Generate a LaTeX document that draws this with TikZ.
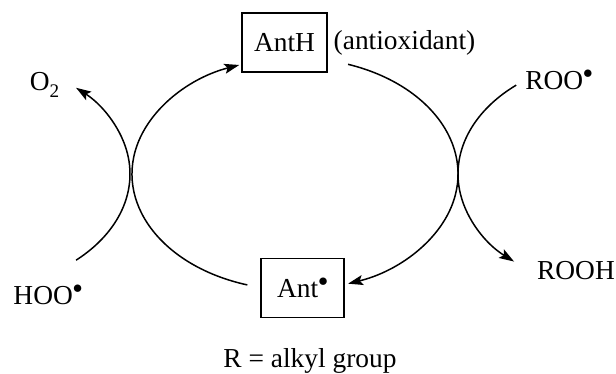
\documentclass[tikz,border=0pt]{standalone}
\usepackage{fontspec}
\setmainfont{Liberation Serif}
\usetikzlibrary{arrows.meta, positioning, calc}

\newcommand{\rad}{\raisebox{0.42em}{$\scriptstyle\bullet$}}

\tikzset{
  species/.style={draw, rectangle, line width=0.6pt, minimum width=1.7cm, minimum height=1.18cm},
  react/.style={line width=0.85pt, -{Stealth[length=3mm, width=2mm, inset=0.6mm]}},
  ring/.style={x radius=3.26, y radius=2.32}
}

\begin{document}
\begin{tikzpicture}[font=\fontsize{15.6}{19}\selectfont]
\useasboundingbox (0,0) rectangle (12.32,7.48);
% centres of the ellipse arcs
\coordinate (cyc) at (5.9,4.0);
\coordinate (lft) at (-0.66,4.0);
\coordinate (rgt) at (12.42,4.0);
%
% boxed species
\node[species] (anth) at (5.69,6.63) {AntH};
\node[right=0pt of anth] (antiox) {(antioxidant)};
\node[species, minimum width=1.66cm] (ant) at (6.05,1.72) {Ant\rad};
%
% radicals and products
\node (o2) at (0.9,5.78) {O\textsubscript{\raisebox{-0.45ex}{2}}};
\node (hoo) at (0.96,1.58) {HOO\rad};
\node (roo) at (11.18,5.88) {ROO\rad};
\node (rooh) at (11.52,2.06) {ROOH};
\node (note) at (6.2,0.26) {R = alkyl group};
%
% main cycle
\draw[react] ($(cyc)+(253:3.26 and 2.32)$) coordinate (antout) arc[start angle=253, end angle=110, ring] coordinate (anthin);
\draw[react] ($(cyc)+(71:3.26 and 2.32)$) coordinate (anthout) arc[start angle=71, end angle=-71, ring] coordinate (antin);
%
% side reactions
\draw[react] ($(lft)+(-48:3.26 and 2.32)$) coordinate (hooout) arc[start angle=-48, end angle=48, ring] coordinate (o2in);
\draw[react] ($(rgt)+(130:3.26 and 2.32)$) coordinate (rooout) arc[start angle=130, end angle=229, ring] coordinate (roohin);
%
\end{tikzpicture}
\end{document}
